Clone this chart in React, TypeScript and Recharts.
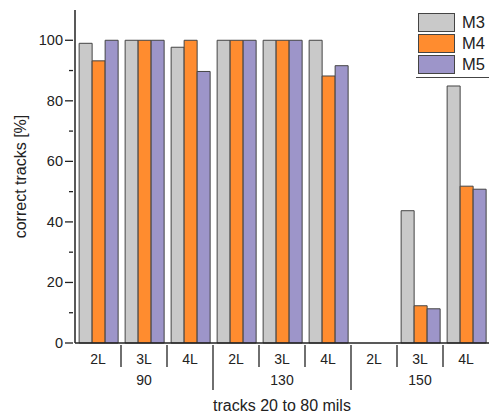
import { BarChart, Bar, XAxis, YAxis } from "recharts";

const widths = ["90", "130", "150"];
const layers = ["2L", "3L", "4L"];
const m3 = [99, 100, 97.7, 100, 100, 100, 0, 43.7, 84.9];
const m4 = [93.2, 100, 100, 100, 100, 88.2, 0, 12.3, 51.8];
const m5 = [100, 100, 89.7, 100, 100, 91.6, 0, 11.3, 50.8];
const yTicks = [0, 10, 20, 30, 40, 50, 60, 70, 80, 90, 100];

const data = widths.flatMap((w, gi) =>
  layers.map((l, li) => {
    const i = gi * layers.length + li;
    return { cat: `${w}-${l}`, layer: l, group: w, M3: m3[i], M4: m4[i], M5: m5[i] };
  })
);

const W = 489;
const H = 416;
const LEFT = 75;
const FONT = "'Liberation Sans', Arial, sans-serif";

const series = [
  { key: "M3", color: "#c9c9c9" },
  { key: "M4", color: "#ff8c2f" },
  { key: "M5", color: "#9d95c9" },
];

function XTick(props: any) {
  const { x, y, index } = props;
  const bw = (W - LEFT) / data.length;
  const left = x - bw / 2;
  const row = data[index];
  return (
    <g>
      {index > 0 && (
        <line x1={left} x2={left} y1={y} y2={y + (index % 3 === 0 ? 45 : 22)} stroke="#222" strokeWidth={1.3} />
      )}
      <text x={x} y={y + 19} textAnchor="middle" fontSize={14} fill="#222" fontFamily={FONT}>
        {row.layer}
      </text>
      {index % 3 === 1 && (
        <text x={x} y={y + 40} textAnchor="middle" fontSize={14} fill="#222" fontFamily={FONT}>
          {row.group}
        </text>
      )}
    </g>
  );
}

function YTick(props: any) {
  const { x, y, payload } = props;
  const major = payload.value % 20 === 0;
  return (
    <g>
      <line x1={x - (major ? 8 : 4)} x2={x} y1={y} y2={y} stroke="#222" strokeWidth={1.3} />
      {major && (
        <text x={x - 10} y={y + 5} textAnchor="end" fontSize={14.5} fill="#222" fontFamily={FONT}>
          {payload.value}
        </text>
      )}
    </g>
  );
}

function LegendBox() {
  return (
    <div
      style={{
        position: "absolute",
        top: 12,
        left: 416,
        width: 73,
        fontFamily: FONT,
        borderBottom: "1.5px solid #444",
        paddingBottom: 2,
      }}
    >
      {series.map((s) => (
        <div key={s.key} style={{ display: "flex", alignItems: "center", height: 21 }}>
          <div
            style={{
              width: 37,
              height: 19,
              marginLeft: 2,
              background: s.color,
              border: "1px solid #444",
              boxSizing: "border-box",
            }}
          />
          <span style={{ marginLeft: 7, fontSize: 16.5, color: "#222" }}>{s.key}</span>
        </div>
      ))}
    </div>
  );
}

export default function App() {
  return (
    <div style={{ position: "absolute", left: 0, top: 0, width: W, height: H, background: "#fff" }}>
      <BarChart
        width={W}
        height={H}
        data={data}
        margin={{ top: 10, right: 0, left: 0, bottom: 0 }}
        barCategoryGap="9%"
        barGap={0}
      >
        <XAxis
          dataKey="cat"
          height={73}
          tickSize={0}
          tickLine={false}
          interval={0}
          tick={<XTick />}
          axisLine={{ stroke: "#222", strokeWidth: 1.5 }}
          label={{
            value: "tracks 20 to 80 mils",
            position: "insideBottom",
            offset: 5,
            fontSize: 16,
            fill: "#222",
            fontFamily: FONT,
          }}
        />
        <YAxis
          width={LEFT}
          domain={[0, 110]}
          ticks={yTicks}
          tickSize={0}
          tickLine={false}
          interval={0}
          tick={<YTick />}
          axisLine={{ stroke: "#222", strokeWidth: 1.5 }}
          label={{
            value: "correct tracks [%]",
            angle: -90,
            position: "insideLeft",
            offset: 20,
            style: { textAnchor: "middle" },
            fontSize: 16,
            fill: "#222",
            fontFamily: FONT,
          }}
        />
        {series.map((s) => (
          <Bar
            key={s.key}
            dataKey={s.key}
            fill={s.color}
            stroke="#444"
            strokeWidth={1}
            isAnimationActive={false}
          />
        ))}
      </BarChart>
      <LegendBox />
    </div>
  );
}
